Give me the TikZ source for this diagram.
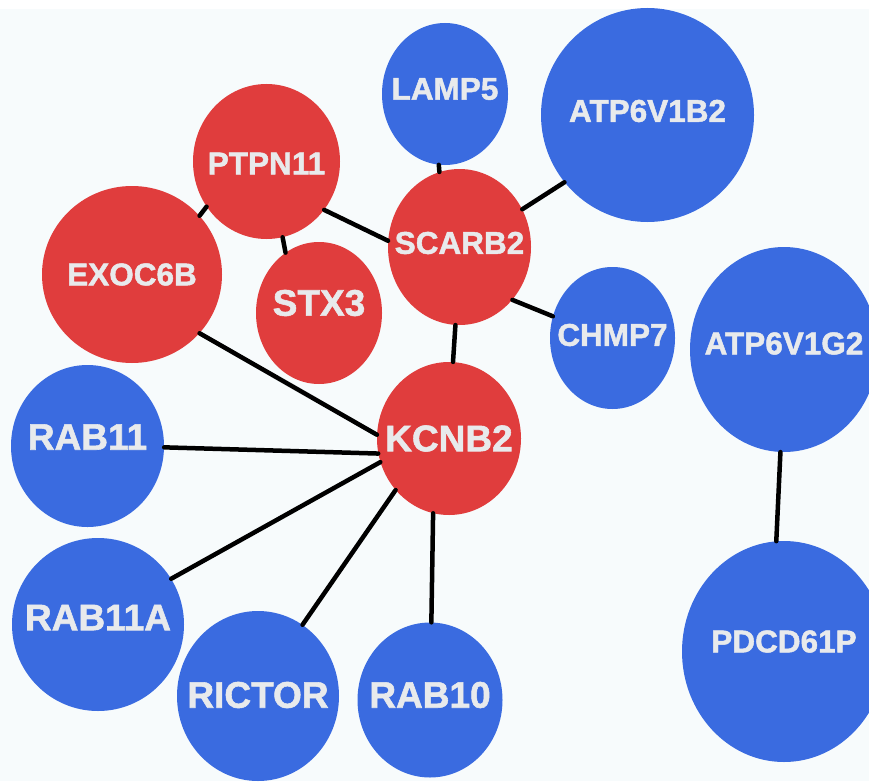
\documentclass[tikz,border=0pt]{standalone}
\usepackage{fontspec}
\setmainfont{Liberation Sans}[BoldFeatures={FakeBold=1.5}]
\usepackage{tikz}
\usetikzlibrary{shapes.geometric}
\definecolor{genered}{RGB}{224,61,61}
\definecolor{geneblue}{RGB}{58,107,224}
\definecolor{genetext}{RGB}{232,234,236}
\definecolor{genebg}{RGB}{247,251,252}
\newcommand{\figurescale}{1pt}
\newcommand{\genesmall}{\bfseries\fontsize{31.5}{32}\selectfont}
\newcommand{\genebig}{\bfseries\fontsize{37}{38}\selectfont}
\newcommand{\gene}[8][0]{
	\node[ellipse, inner sep=0pt, fill=#3, minimum width=#7pt, minimum height=#8pt,
		label={[text=genetext, font=#4, yshift=#1pt]center:#2}] (#2) at (#5,#6) {};
}

\begin{document}
\begin{tikzpicture}[x=\figurescale,y=-\figurescale,
	edge/.style={line width=4.5pt, black, line cap=round}]
	\useasboundingbox (0,0) rectangle (869,781);
	\fill[white] (0,0) rectangle (869,781);
	\fill[genebg] (0,9) rectangle (869,781);

	\gene[4]{ATP6V1B2}{geneblue}{\genesmall}{647.5}{115}{213}{214}
	\gene[5]{LAMP5}{geneblue}{\genesmall}{445}{94}{126}{142}
	\gene[-2]{PTPN11}{genered}{\genesmall}{266.5}{161.5}{147}{155}
	\gene{EXOC6B}{genered}{\genesmall}{132}{274.5}{180}{177}
	\gene[10]{STX3}{genered}{\genebig}{319}{313}{126}{142}
	\gene[4]{SCARB2}{genered}{\genesmall}{459.5}{247}{143}{156}
	\gene[3]{CHMP7}{geneblue}{\genesmall}{612.5}{338}{125}{142}
	\gene[6]{ATP6V1G2}{geneblue}{\genesmall}{784}{349.5}{188}{205}
	\gene{KCNB2}{genered}{\genebig}{449}{438.5}{144}{153}
	\gene[9]{RAB11}{geneblue}{\genebig}{87.5}{446}{153}{162}
	\gene[7]{RAB11A}{geneblue}{\genebig}{98}{624.5}{172}{173}
	\gene[1]{RICTOR}{geneblue}{\genebig}{258}{696}{162}{170}
	\gene[5]{RAB10}{geneblue}{\genebig}{430}{700}{145}{155}
	\gene[10]{PDCD61P}{geneblue}{\genesmall}{784}{651.5}{204}{221}

	\draw[edge] (PTPN11.217) -- (EXOC6B.41);
	\draw[edge] (PTPN11.282) -- (STX3.119);
	\draw[edge] (PTPN11.320) -- (SCARB2.175);
	\draw[edge] (LAMP5.265) -- (SCARB2.105);
	\draw[edge] (ATP6V1B2.219) -- (SCARB2.31);
	\draw[edge] (SCARB2.315) -- (CHMP7.160);
	\draw[edge] (SCARB2.267) -- (KCNB2.87);
	\draw[edge] (EXOC6B.319) -- (KCNB2.177);
	\draw[edge] (RAB11.359) -- (KCNB2.192);
	\draw[edge] (RAB11A.32) -- (KCNB2.199);
	\draw[edge] (RICTOR.58) -- (KCNB2.224);
	\draw[edge] (RAB10.89) -- (KCNB2.258);
	\draw[edge] (ATP6V1G2.268) -- (PDCD61P.94);
\end{tikzpicture}
\end{document}
